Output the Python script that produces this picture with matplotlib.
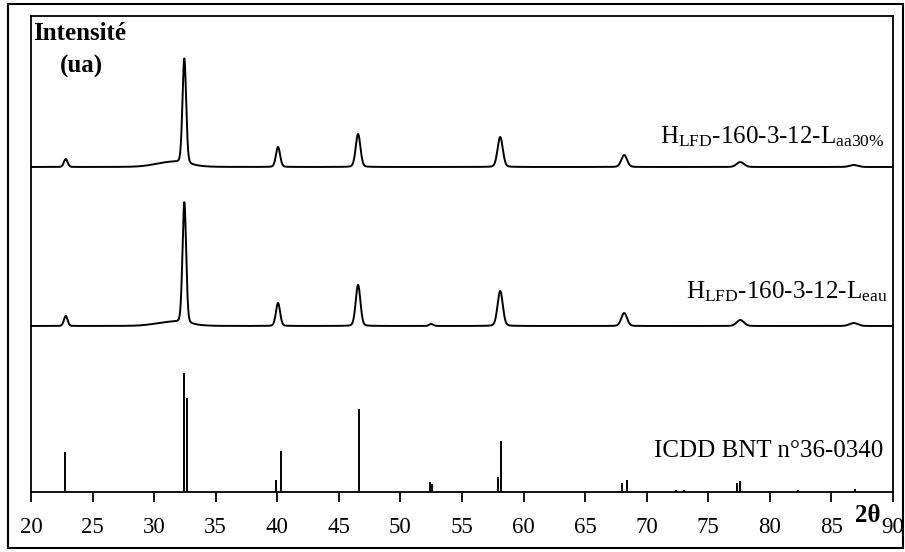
import numpy as np
import matplotlib
matplotlib.use("Agg")
import matplotlib.pyplot as plt
from matplotlib.patches import Rectangle

plt.rcParams["font.family"] = ["Liberation Serif", "DejaVu Serif"]
plt.rcParams["mathtext.fontset"] = "custom"
plt.rcParams["mathtext.rm"] = "Liberation Serif"
plt.rcParams["mathtext.it"] = "Liberation Serif:italic"
plt.rcParams["mathtext.bf"] = "Liberation Serif:bold"

# Fiche ICDD BNT n°36-0340 : positions (2theta) et intensites relatives
icdd_pos = [22.8, 32.45, 32.7, 39.9, 40.3, 46.6, 52.4, 52.6, 57.9, 58.2,
            68.0, 68.4, 72.4, 73.0, 77.3, 77.6, 82.3, 86.9]
icdd_int = [40, 119, 94, 12, 41, 83, 10, 8, 15, 51,
            9, 12, 2, 2, 9, 11, 2, 3]

eau_base = 166
eau_pos = [22.82, 31.4, 32.45, 40.06, 46.56, 52.5, 58.1, 68.17, 77.6, 86.8]
eau_int = [10, 4, 121, 23, 41, 2, 35, 13, 6, 3]
eau_fwhm = [0.35, 3.0, 0.35, 0.4, 0.45, 0.4, 0.5, 0.55, 0.7, 0.8]

aa_base = 325
aa_pos = [22.82, 31.4, 32.45, 40.06, 46.56, 58.1, 68.17, 77.6, 86.8]
aa_int = [8, 5, 105, 20, 33, 30, 12, 5, 2]
aa_fwhm = [0.35, 3.0, 0.35, 0.4, 0.45, 0.5, 0.55, 0.7, 0.8]


def profil(x, base, pos, hauteur, largeur, eta=0.15):
    """Somme de raies pseudo-Voigt posees sur une ligne de base."""
    y = np.full_like(x, float(base))
    for p, h, w in zip(pos, hauteur, largeur):
        u = (x - p) / (w / 2)
        g = np.exp(-np.log(2) * u ** 2)
        l = 1 / (1 + u ** 2)
        y += h * ((1 - eta) * g + eta * l)
    return y


x = np.linspace(20, 90, 7001)

fig = plt.figure(figsize=(9.05, 5.52), dpi=100)
ax = fig.add_axes([31 / 905, 1 - 492 / 552, 862 / 905, 476 / 552])

ax.plot(x, profil(x, aa_base, aa_pos, aa_int, aa_fwhm), color="black", lw=1.4)
ax.plot(x, profil(x, eau_base, eau_pos, eau_int, eau_fwhm), color="black", lw=1.4)
ax.vlines(icdd_pos, 0, icdd_int, color="black", lw=1.4)

ax.set_xlim(20, 90)
ax.set_ylim(0, 476)
ax.set_xticks(np.arange(20, 91, 5))
ax.set_yticks([])
ax.tick_params(axis="x", direction="out", length=7, width=1.3, labelsize=16.5, pad=11)
for s in ax.spines.values():
    s.set_linewidth(1.3)

ax.text(33 / 905, 1 - 22 / 552, "Intensité", transform=fig.transFigure,
        ha="left", va="top", fontsize=18, fontweight="bold")
ax.text(60 / 905, 1 - 55 / 552, "(ua)", transform=fig.transFigure,
        ha="left", va="top", fontsize=18, fontweight="bold")

ax.text(89.3, 349, r"H$_{\rm LFD}$-160-3-12-L$_{\rm aa30\%}$", ha="right",
        va="baseline", fontsize=18)
ax.text(89.6, 194, r"H$_{\rm LFD}$-160-3-12-L$_{\rm eau}$", ha="right",
        va="baseline", fontsize=18)
ax.text(89.2, 35, "ICDD BNT n°36-0340", ha="right", va="baseline", fontsize=18)

fig.text(868 / 905, 1 - 515 / 552, "2θ", ha="center", va="center",
         fontsize=18, fontweight="bold")

fig.patches.append(Rectangle((8 / 905, 1 - 548 / 552), 895 / 905, 544 / 552,
                             transform=fig.transFigure, fill=False,
                             edgecolor="black", lw=1.5))

fig.savefig("out.png", dpi=100)
